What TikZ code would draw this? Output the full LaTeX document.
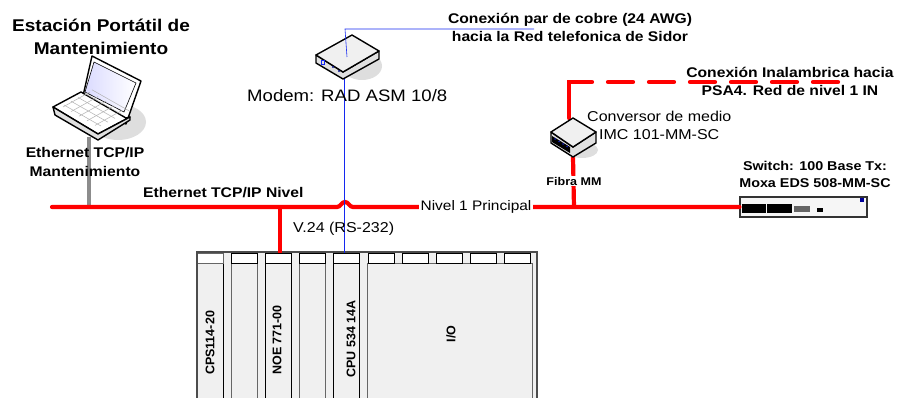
\documentclass[tikz,border=0pt]{standalone}
\usepackage{fontspec}
\setmainfont{Liberation Sans}
\newfontfamily\widesans[FakeStretch=1.12]{Liberation Sans}
\definecolor{BusRed}{RGB}{255,0,0}
\definecolor{LinkBlue}{RGB}{20,40,240}
\definecolor{ModuleGray}{RGB}{240,240,240}
\definecolor{ShadowGray}{RGB}{222,222,222}
\usetikzlibrary{positioning, arrows.meta, calc}
\tikzset{
  busline/.style={draw=BusRed, line width=4.2pt, line cap=round},
  bluelink/.style={draw=LinkBlue, line width=0.8pt},
  plainlabel/.style={inner sep=0pt, align=center, font=\widesans\fontsize{14.3}{19}\selectfont},
  boldlabel/.style={inner sep=0pt, align=center, font=\widesans\fontsize{14}{18.5}\selectfont\bfseries},
  modulebox/.style={draw=black, line width=1pt, fill=ModuleGray, minimum width=26pt, minimum height=136pt, anchor=north west, inner sep=0pt},
  headbox/.style={draw=black, line width=1pt, fill=white, minimum width=25.5pt, minimum height=10.5pt, anchor=north west, inner sep=0pt},
  modulelabel/.style={rotate=90, inner sep=0pt, font=\fontsize{12.5}{14}\selectfont\bfseries},
  devicebody/.style={draw=black, line width=1.4pt, line join=round}
}
\begin{document}
\begin{tikzpicture}[x=1pt, y=-1pt]
  \useasboundingbox (0,0) rectangle (898,398);

  \coordinate (busstart) at (52,207);
  \coordinate (laptopfoot) at (89,137);
  \coordinate (modemtop) at (347,57);
  \coordinate (modemfoot) at (344,79);
  \coordinate (copperbend) at (345,29);
  \coordinate (copperend) at (534,29);
  \coordinate (convertertop) at (569,118);
  \coordinate (convertfoot) at (573,157);
  \coordinate (wirelessbend) at (569,82);
  \coordinate (wirelessend) at (840,82);
  \coordinate (hopleft) at (337,207);
  \coordinate (hopright) at (353,207);
  \coordinate (fibrajoin) at (574,207);
  \coordinate (noejoin) at (280,207);
  \coordinate (laptopjoin) at (89,207);

  % rack
  \fill[ModuleGray] (197,252) rectangle (537,398);
  \node[modulebox] (cps) at (197,263) {};
  \node[modulebox, draw=black!60] (blank1) at (231,263) {};
  \node[modulebox] (noe) at (265,263) {};
  \node[modulebox, draw=black!60] (blank2) at (299,263) {};
  \node[modulebox] (cpu) at (333,263) {};
  \node[modulebox, minimum width=165pt, draw=black!60] (iobody) at (367,263) {};
  \node[headbox, draw=black!60] (cpshead) at (197,253) {};
  \node[headbox] (blank1head) at (231,253) {};
  \node[headbox] (noehead) at (265,253) {};
  \node[headbox] (blank2head) at (299,253) {};
  \node[headbox] (cpuhead) at (333,253) {};
  \node[headbox] (iohead1) at (368,253) {};
  \node[headbox] (iohead2) at (402,253) {};
  \node[headbox] (iohead3) at (436,253) {};
  \node[headbox] (iohead4) at (470,253) {};
  \node[headbox] (iohead5) at (504,253) {};
  \draw[black!70, line width=1.4pt] (197,398) -- (197,252) -- (537,252) -- (537,398);
  \node[modulelabel] (cpslabel) at (210,343) {CPS114-20};
  \node[modulelabel] (noelabel) at (277,340) {NOE 771-00};
  \node[modulelabel] (cpulabel) at (351,339) {CPU 534 14A};
  \node[modulelabel] (iolabel) at (451,334) {I/O};

  % switch
  \node[draw=black!80, line width=1.2pt, fill=ModuleGray!60, minimum width=127pt, minimum height=20pt, inner sep=0pt] (switch) at (803.5,207) {};
  \fill[black] (742,204) rectangle (766,213);
  \fill[black] (767,204) rectangle (792,213);
  \fill[black!60] (794,206) rectangle (810,212);
  \fill[black] (817,208) rectangle (823,212);
  \fill[blue!60!black] (860,198) rectangle (864,202);

  % connectors
  \draw[draw=black!45, line width=4pt] (laptopfoot) -- (laptopjoin);
  \draw[busline] (busstart) -- (hopleft) to[out=0, in=180] ($(hopleft)!0.5!(hopright)+(0,-5)$) to[out=0, in=180] (hopright) -- (switch.west);
  \draw[busline, line cap=butt] (noejoin) -- (noehead.north -| noejoin);
  \draw[busline, line cap=butt] (convertfoot) -- (fibrajoin);
  \draw[busline, dash pattern=on 59pt off 16pt on 25pt off 16pt on 25pt off 16pt on 25pt off 16pt on 25pt off 16pt on 25pt off 16pt on 25pt off 16pt] (convertertop) -- (wirelessbend) -- (wirelessend);
  \draw[bluelink] (modemfoot) -- (cpuhead.north -| modemfoot);

  % laptop
  \fill[ShadowGray] (118,122) ellipse (28 and 18);
  \draw[devicebody, fill=white] (92,56) -- (141,81) -- (126,124) -- (83,96) -- cycle;
  \shade[left color=blue!14, right color=white] (94,62) -- (136,83) -- (124,112) -- (85,92) -- cycle;
  \draw[black, line width=0.6pt] (94,62) -- (136,83) -- (124,112) -- (85,92) -- cycle;
  \draw[devicebody, fill=white] (81,92) -- (53,107) -- (98,134) -- (130,117) -- (126,118) -- cycle;
  \draw[devicebody, fill=black!12] (53,107) -- (55,115) -- (98,140) -- (130,120) -- (130,117) -- (98,134) -- cycle;
  \foreach \i in {0,...,4} {
    \draw[black!30, line width=0.5pt] ($(64,105)+(\i*7,-\i*3.8)+(0,0)$) -- ($(101,126)+(\i*7,-\i*3.8)$);
    \draw[black!30, line width=0.5pt] ($(63,107)+(\i*8,\i*4.6)$) -- ($(90,92)+(\i*8,\i*4.6)$);
  }

  % modem
  \fill[ShadowGray] (362,66) ellipse (20 and 14);
  \draw[devicebody, fill=black!12] (316,55) -- (316,63) -- (343,79) -- (379,59) -- (379,51) -- (343,72) -- cycle;
  \draw[devicebody, fill=ModuleGray] (352,35) -- (379,51) -- (343,72) -- (316,55) -- cycle;
  \draw[LinkBlue, line width=0.5pt] (321,60) rectangle (324,64);
  \fill[LinkBlue!60!black] (333,67) circle (1.2);
  \fill[LinkBlue!60!black] (339,71) circle (1.2);
  \draw[bluelink, line width=0.6pt] (modemtop) -- (copperbend) -- (copperend);

  % converter
  \fill[ShadowGray] (582,150) ellipse (16 and 8);
  \draw[devicebody, fill=black!12] (551,132) -- (551,143) -- (573,157) -- (596,143) -- (596,132) -- (573,147) -- cycle;
  \fill[black] (552,136) -- (570,147) -- (570,153) -- (552,142) -- cycle;
  \foreach \i in {0,...,3} {
    \fill[LinkBlue!70!black] ($(555,139)+(\i*4,\i*2.5)$) circle (1);
  }
  \draw[devicebody, fill=ModuleGray] (573,118) -- (596,132) -- (573,147) -- (551,132) -- cycle;

  % labels
  \node[plainlabel, fill=white, inner xsep=2pt, inner ysep=1pt, font=\widesans\fontsize{13.8}{16}\selectfont] (nivel1label) at (476,207) {Nivel 1 Principal};
  \node[boldlabel, font=\widesans\fontsize{17}{23}\selectfont\bfseries] (stationlabel) at (101,36.5) {Estación Portátil de\\Mantenimiento};
  \node[boldlabel] (maintlabel) at (85,162) {Ethernet TCP/IP\\Mantenimiento};
  \node[boldlabel, anchor=west] (ethnivel) at (143,193) {Ethernet TCP/IP Nivel};
  \node[plainlabel, font=\widesans\fontsize{16.6}{19}\selectfont, anchor=west] (modemlabel) at (247,96) {Modem: RAD ASM 10/8};
  \node[plainlabel, anchor=west] (v24label) at (293,229) {V.24 (RS-232)};
  \node[boldlabel] (copperlabel) at (570,27.5) {Conexión par de cobre (24 AWG)\\hacia la Red telefonica de Sidor};
  \node[boldlabel] (wirelesslabel) at (790,81.5) {Conexión Inalambrica hacia\\PSA4. Red de nivel 1 IN};
  \node[plainlabel, anchor=west] (convlabel1) at (587,116) {Conversor de medio};
  \node[plainlabel, anchor=west] (convlabel2) at (599,135) {IMC 101-MM-SC};
  \node[boldlabel, font=\widesans\fontsize{11.2}{13}\selectfont\bfseries, fill=white, inner ysep=1pt] (fibralabel) at (574,181) {Fibra MM};
  \node[boldlabel, font=\widesans\fontsize{12.8}{17}\selectfont\bfseries] (switchlabel) at (815,174.5) {Switch: 100 Base Tx:\\Moxa EDS 508-MM-SC};
\end{tikzpicture}
\end{document}
